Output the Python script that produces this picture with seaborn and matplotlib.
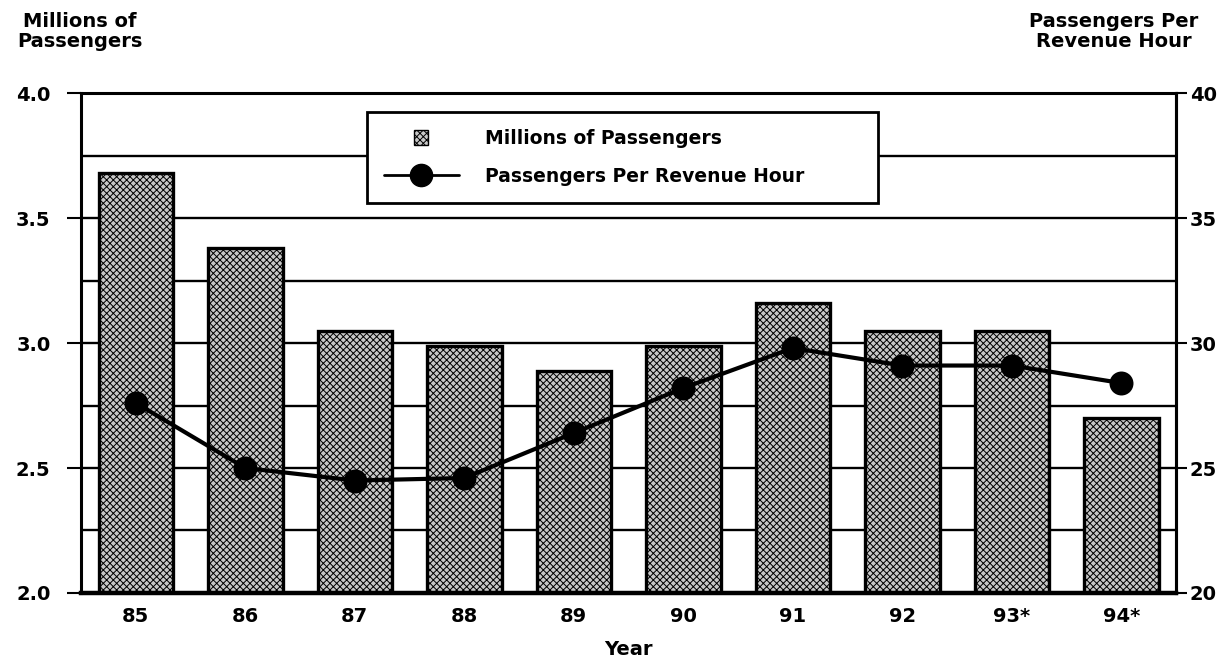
import numpy as np
import pandas as pd
import matplotlib
matplotlib.use("Agg")
import matplotlib.pyplot as plt
import seaborn as sns
from matplotlib.patches import Patch, Rectangle
from matplotlib.lines import Line2D
from matplotlib.legend_handler import HandlerPatch

years = ["85", "86", "87", "88", "89", "90", "91", "92", "93*", "94*"]
passengers = [3.68, 3.38, 3.05, 2.99, 2.89, 2.99, 3.16, 3.05, 3.05, 2.70]
per_hour = [27.6, 25.0, 24.5, 24.6, 26.4, 28.2, 29.8, 29.1, 29.1, 28.4]

df = pd.DataFrame({"Year": years, "Passengers": passengers, "PerHour": per_hour})

sns.set_style("white")
plt.rcParams["font.family"] = ["DejaVu Sans"]
plt.rcParams["font.weight"] = "bold"
plt.rcParams["hatch.linewidth"] = 0.7
plt.rcParams["text.color"] = "black"
plt.rcParams["axes.labelcolor"] = "black"
plt.rcParams["xtick.color"] = "black"
plt.rcParams["ytick.color"] = "black"

fs = 14

fig = plt.figure(figsize=(12.28, 6.65), dpi=100)
ax = fig.add_axes([0.066, 0.1083, 0.8917, 0.7517])

bar_fill = "#c8c8c8"
sns.barplot(data=df, x="Year", y="Passengers", color=bar_fill, saturation=1,
            edgecolor="black", linewidth=2.4, width=0.68, ax=ax, zorder=2)
for p in ax.patches:
    p.set_hatch("xxxxx")

ax.set_ylim(2.0, 4.0)
ax.set_xlim(-0.5, 9.5)
ax.set_yticks(np.arange(2.0, 4.01, 0.5))
ax.set_yticks(np.arange(2.25, 4.0, 0.5), minor=True)
ax.set_yticklabels([f"{v:.1f}" for v in np.arange(2.0, 4.01, 0.5)], fontsize=fs, fontweight="bold")
ax.yaxis.grid(True, which="both", color="black", linewidth=1.7)
ax.set_axisbelow(True)
ax.tick_params(axis="y", which="major", direction="out", length=10, width=1.5, left=True, pad=12)
ax.tick_params(axis="y", which="minor", length=0)
ax.tick_params(axis="x", length=0, pad=10, labelsize=fs)
for lbl in ax.get_xticklabels():
    lbl.set_fontweight("bold")
ax.set_xlabel("Year", fontsize=fs, fontweight="bold", labelpad=10)
ax.set_ylabel("")
for s in ax.spines.values():
    s.set_color("black")
    s.set_linewidth(2.2)
ax.spines["bottom"].set_linewidth(3.2)

ax2 = ax.twinx()
sns.pointplot(data=df, x="Year", y="PerHour", color="black", markers="o",
              markersize=15, linewidth=3, ax=ax2, zorder=5)
ax2.set_ylim(20, 40)
ax2.set_xlim(-0.5, 9.5)
ax2.set_yticks(np.arange(20, 41, 5))
ax2.set_yticklabels([str(v) for v in range(20, 41, 5)], fontsize=fs, fontweight="bold")
ax2.tick_params(axis="y", direction="out", length=8, width=1.5, right=True, pad=2)
ax2.set_ylabel("")
ax2.set_xlabel("")
ax2.grid(False)
for s in ax2.spines.values():
    s.set_visible(False)
ax2.spines["right"].set_visible(True)
ax2.spines["right"].set_linewidth(2.2)
ax2.spines["right"].set_color("black")


def square_patch(legend, orig_handle, xdescent, ydescent, width, height, fontsize):
    s = height * 1.1
    return Rectangle((-xdescent + width / 2 - s / 2, -ydescent + height / 2 - s / 2), s, s)


handles = [
    Patch(facecolor=bar_fill, edgecolor="black", hatch="xxxxx", linewidth=1),
    Line2D([], [], color="black", linewidth=2, marker="o", markersize=16),
]
labels = ["Millions of Passengers", "Passengers Per Revenue Hour"]
leg = ax2.legend(handles, labels, loc="upper left",
                 bbox_to_anchor=(0.261, 0.762, 0.467, 0.2), mode="expand",
                 bbox_transform=ax2.transAxes, frameon=True, fancybox=False,
                 edgecolor="black", framealpha=1, labelcolor="black",
                 borderpad=0.9, labelspacing=1.0, handlelength=4.0,
                 handletextpad=1.4, borderaxespad=0,
                 prop={"weight": "bold", "size": 13.5},
                 handler_map={Patch: HandlerPatch(patch_func=square_patch)})
leg.get_frame().set_linewidth(2)
leg.set_zorder(10)

fig.text(80 / 1228, 1 - 12 / 665, "Millions of\nPassengers", ha="center", va="top",
         fontsize=fs, fontweight="bold", linespacing=1.05, color="black")
fig.text(1114 / 1228, 1 - 12 / 665, "Passengers Per\nRevenue Hour", ha="center", va="top",
         fontsize=fs, fontweight="bold", linespacing=1.05, color="black")

fig.savefig("out.png", dpi=100)
